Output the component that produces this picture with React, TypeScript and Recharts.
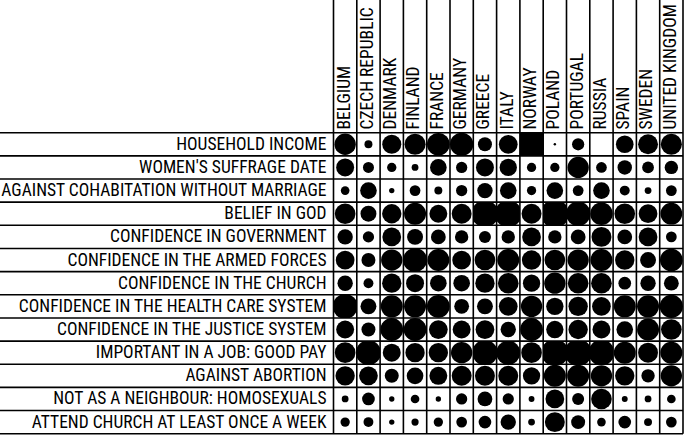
import React from 'react';
import { ScatterChart, Scatter, XAxis, YAxis, ZAxis } from 'recharts';

const countries = [
  'BELGIUM', 'CZECH REPUBLIC', 'DENMARK', 'FINLAND', 'FRANCE', 'GERMANY', 'GREECE', 'ITALY',
  'NORWAY', 'POLAND', 'PORTUGAL', 'RUSSIA', 'SPAIN', 'SWEDEN', 'UNITED KINGDOM',
];

const questions = [
  'HOUSEHOLD INCOME',
  "WOMEN'S SUFFRAGE DATE",
  'AGAINST COHABITATION WITHOUT MARRIAGE',
  'BELIEF IN GOD',
  'CONFIDENCE IN GOVERNMENT',
  'CONFIDENCE IN THE ARMED FORCES',
  'CONFIDENCE IN THE CHURCH',
  'CONFIDENCE IN THE HEALTH CARE SYSTEM',
  'CONFIDENCE IN THE JUSTICE SYSTEM',
  'IMPORTANT IN A JOB: GOOD PAY',
  'AGAINST ABORTION',
  'NOT AS A NEIGHBOUR: HOMOSEXUALS',
  'ATTEND CHURCH AT LEAST ONCE A WEEK',
];

// values per country, in the order of `countries`
const householdIncome = [79, 11, 63, 77, 90, 94, 34, 61, 178, 1, 26, 0, 54, 69, 77];
const womensSuffrage = [56, 21, 15, 8, 48, 22, 56, 52, 15, 15, 79, 20, 36, 24, 31];
const againstCohabitation = [13, 48, 5, 20, 11, 22, 41, 48, 15, 48, 20, 48, 17, 8, 20];
const beliefInGod = [74, 44, 65, 84, 56, 69, 127, 127, 69, 140, 104, 88, 74, 61, 82];
const confGovernment = [41, 22, 61, 44, 38, 31, 25, 31, 61, 31, 38, 69, 38, 61, 20];
const confArmedForces = [61, 34, 79, 100, 84, 61, 74, 84, 65, 74, 79, 84, 65, 44, 90];
const confChurch = [41, 17, 65, 56, 48, 48, 65, 74, 52, 79, 74, 74, 28, 41, 38];
const confHealthCare = [108, 44, 84, 84, 90, 38, 44, 61, 79, 52, 65, 61, 84, 84, 94];
const confJustice = [56, 34, 90, 90, 61, 56, 61, 41, 90, 52, 65, 56, 48, 84, 74];
const goodPay = [74, 108, 56, 65, 65, 79, 112, 100, 74, 127, 127, 117, 84, 69, 84];
const againstAbortion = [65, 61, 34, 48, 56, 69, 69, 69, 52, 84, 84, 79, 65, 31, 79];
const notNeighbourHomosexuals = [8, 28, 5, 13, 5, 22, 38, 22, 6, 61, 25, 74, 6, 8, 13];
const attendChurch = [15, 17, 5, 9, 15, 20, 28, 41, 8, 69, 34, 13, 28, 11, 20];

const rows = [
  householdIncome, womensSuffrage, againstCohabitation, beliefInGod, confGovernment,
  confArmedForces, confChurch, confHealthCare, confJustice, goodPay, againstAbortion,
  notNeighbourHomosexuals, attendChurch,
];

const data = rows.flatMap((vals, r) =>
  vals.map((v, c) => ({ x: c + 0.5, y: r + 0.5, z: v, row: r, col: c }))
);

const xTicks = Array.from({ length: countries.length * 2 + 1 }, (_, i) => i / 2);
const yTicks = Array.from({ length: questions.length * 2 + 1 }, (_, i) => i / 2);

// layout
const CHART_W = 684;
const CHART_H = 438;
const Y_AXIS_W = 333.5;
const X_AXIS_H = 132.7;
const MARGIN = { top: 0, right: 1, bottom: 4.3, left: 0 };
const PLOT_W = CHART_W - Y_AXIS_W - MARGIN.right - MARGIN.left;
const PLOT_H = CHART_H - X_AXIS_H - MARGIN.bottom - MARGIN.top;
const CELL_W = PLOT_W / countries.length;
const CELL_H = PLOT_H / questions.length;
const LINE_W = 1.6;
const FONT = '"Liberation Sans Narrow", "Roboto Condensed", "Arial Narrow", "DejaVu Sans Condensed", sans-serif';
const FONT_SIZE = 17.5;
const AREA_100 = Math.PI * 12 * 12;

const ColumnTick = (props: any) => {
  const { x, y, payload } = props;
  const v = payload.value;
  if (Number.isInteger(v)) {
    return (
      <line x1={x} x2={x} y1={y - X_AXIS_H} y2={y + PLOT_H} stroke="#000" strokeWidth={LINE_W} />
    );
  }
  const label = countries[Math.floor(v)];
  return (
    <text
      transform={`translate(${x + 4.4},${y - 3.2}) rotate(-90)`}
      fontFamily={FONT}
      fontSize={FONT_SIZE}
      fill="#000"
      textAnchor="start"
    >
      {label}
    </text>
  );
};

const RowTick = (props: any) => {
  const { x, y, payload } = props;
  const v = payload.value;
  if (Number.isInteger(v)) {
    return (
      <line x1={x - Y_AXIS_W} x2={x + PLOT_W} y1={y} y2={y} stroke="#000" strokeWidth={LINE_W} />
    );
  }
  const label = questions[Math.floor(v)];
  return (
    <text x={x - 7} y={y + 5.5} fontFamily={FONT} fontSize={FONT_SIZE} fill="#000" textAnchor="end">
      {label}
    </text>
  );
};

const Bubble = (props: any) => {
  const { cx, cy, width, size, payload } = props;
  if (cx == null || cy == null) return null;
  const r = width != null ? width / 2 : Math.sqrt(Math.max(size || 0, 0) / Math.PI);
  if (!(r > 0)) return <g />;
  const id = `cell-clip-${payload.row}-${payload.col}`;
  return (
    <g>
      <defs>
        <clipPath id={id}>
          <rect x={cx - CELL_W / 2} y={cy - CELL_H / 2} width={CELL_W} height={CELL_H} />
        </clipPath>
      </defs>
      <circle cx={cx} cy={cy} r={r} fill="#000" clipPath={`url(#${id})`} />
    </g>
  );
};

export default function App() {
  return (
    <div style={{ width: CHART_W, height: CHART_H, background: '#fff' }}>
      <style>{'body{margin:0;background:#fff;}'}</style>
      <ScatterChart width={CHART_W} height={CHART_H} margin={MARGIN}>
        <XAxis
          type="number"
          dataKey="x"
          orientation="top"
          domain={[0, countries.length]}
          ticks={xTicks}
          interval={0}
          height={X_AXIS_H}
          tick={<ColumnTick />}
          tickLine={false}
          axisLine={false}
          tickSize={0}
          tickMargin={0}
        />
        <YAxis
          type="number"
          dataKey="y"
          reversed
          domain={[0, questions.length]}
          ticks={yTicks}
          interval={0}
          width={Y_AXIS_W}
          tick={<RowTick />}
          tickLine={false}
          axisLine={false}
          tickSize={0}
          tickMargin={0}
        />
        <ZAxis type="number" dataKey="z" domain={[0, 200]} range={[0, AREA_100 * 2]} />
        <Scatter data={data} shape={<Bubble />} isAnimationActive={false} />
      </ScatterChart>
    </div>
  );
}
